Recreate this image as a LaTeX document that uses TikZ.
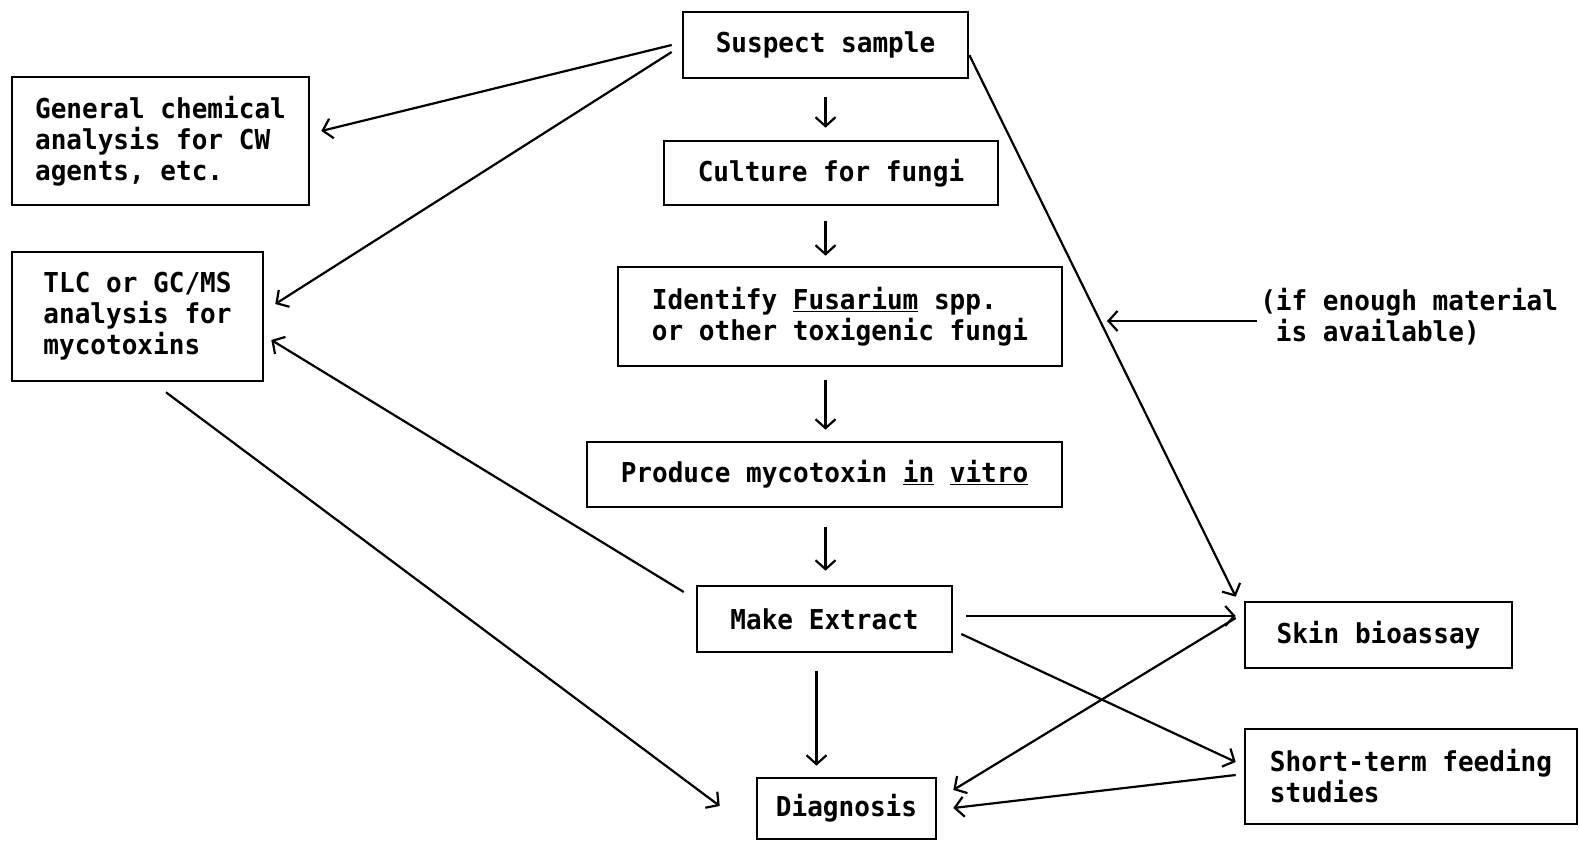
\documentclass[tikz,border=0pt]{standalone}
\usepackage{fontspec}
\newfontfamily\boxfont[FakeStretch=0.95]{DejaVu Sans Mono}
\usetikzlibrary{arrows.meta}

\begin{document}
\begin{tikzpicture}[x=1pt,y=1pt,
    box/.style={draw, line width=2.6pt, inner sep=0pt, align=left,
      font=\boxfont\bfseries\fontsize{27.4}{31}\selectfont},
    arr/.style={line width=2.2pt,
      -{Straight Barb[length=9pt,width=20pt,line width=2.2pt]}}]
\useasboundingbox (0,0) rectangle (1579,841);

% centre column
\node[box, minimum width=285pt, minimum height=66pt] (sample) at (825.5,796) {Suspect sample};
\node[box, minimum width=334pt, minimum height=64pt] (culture) at (831,668) {Culture for fungi};
\node[box, minimum width=444pt, minimum height=99pt] (identify) at (840,524.5)
  {Identify \underline{Fusarium} spp.\\or other toxigenic fungi};
\node[box, minimum width=475pt, minimum height=65pt] (produce) at (824.5,366.5)
  {Produce mycotoxin \underline{in} \underline{vitro}};
\node[box, minimum width=255pt, minimum height=66pt] (extract) at (824.5,222) {Make Extract};
\node[box, minimum width=179pt, minimum height=61pt] (diagnosis) at (846.5,32.5) {Diagnosis};

% left column
\node[box, minimum width=297pt, minimum height=128pt] (general) at (160.5,700)
  {General chemical\\analysis for CW\\agents, etc.};
\node[box, minimum width=251pt, minimum height=129pt] (tlc) at (137.5,524.5)
  {TLC or GC/MS\\analysis for\\mycotoxins};

% right column
\node[box, minimum width=267pt, minimum height=66pt] (skin) at (1378.5,206) {Skin bioassay};
\node[box, minimum width=332pt, minimum height=95pt] (short) at (1411,64.5)
  {Short-term feeding\\studies};
\node[box, draw=none, anchor=west] (note) at (1259,524)
  {(if enough material\\\hphantom{(}is available)};
\coordinate (online) at (1107,520);

% connectors
\draw[arr] ([xshift=-10pt]sample.west) -- ([xshift=11pt,yshift=10pt]general.east);
\draw[arr] ([xshift=-10pt,yshift=-7pt]sample.west) -- ([xshift=11pt,yshift=12.5pt]tlc.east);
\draw[arr,shorten <=18pt,shorten >=12pt] (sample.south) -- (sample.south |- culture.north);
\draw[arr,shorten <=15pt,shorten >=10pt] (sample.south |- culture.south) -- (sample.south |- identify.north);
\draw[arr,shorten <=13pt,shorten >=11pt] (sample.south |- identify.south) -- (sample.south |- produce.north);
\draw[arr,shorten <=19pt,shorten >=14pt] (sample.south |- produce.south) -- (sample.south |- extract.north);
\draw[arr,shorten <=18pt,shorten >=11pt] ([xshift=-8pt]extract.south) -- ([xshift=-8pt]extract.south |- diagnosis.north);
\draw[arr] ([yshift=-10pt]sample.east) -- ([xshift=-8pt,yshift=4pt]skin.north west);
\draw[arr] ([xshift=13pt,yshift=3pt]extract.east) -- ([xshift=-8pt,yshift=19pt]skin.west);
\draw[arr] ([xshift=8pt,yshift=-15pt]extract.east) -- ([xshift=-8pt,yshift=14.5pt]short.west);
\draw[arr] ([xshift=-8pt,yshift=17pt]skin.west) -- ([xshift=16pt,yshift=18.5pt]diagnosis.east);
\draw[arr] ([xshift=-8pt,yshift=1.5pt]short.west) -- ([xshift=16pt,yshift=0.5pt]diagnosis.east);
\draw[arr] ([xshift=-12pt,yshift=27pt]extract.west) -- ([xshift=7pt,yshift=-23.5pt]tlc.east);
\draw[arr] ([xshift=28.5pt,yshift=-10pt]tlc.south) -- ([xshift=-36pt,yshift=2.5pt]diagnosis.west);
\draw[arr] ([xshift=-2pt,yshift=-4pt]note.west) -- (online);
\end{tikzpicture}
\end{document}
